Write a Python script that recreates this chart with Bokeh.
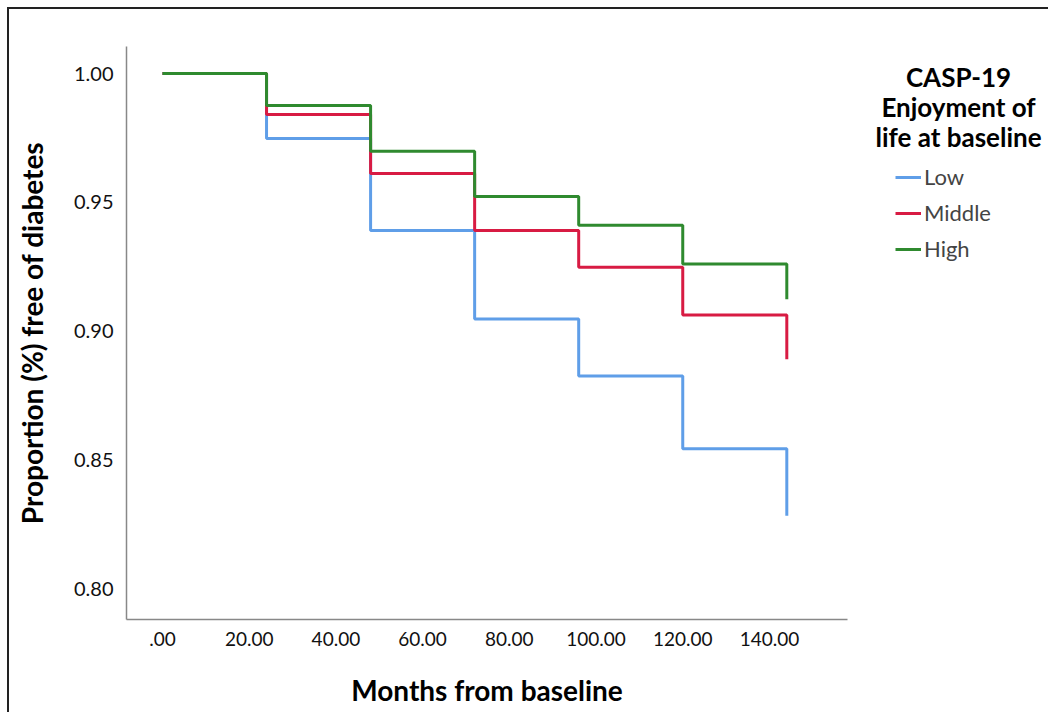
from bokeh.plotting import figure
from bokeh.layouts import row
from bokeh.models import Legend, LegendItem, Label, NumeralTickFormatter, Range1d
from bokeh.embed import file_html
from bokeh.resources import INLINE

months = [0, 24, 48, 72, 96, 120, 144]
low = [1.0, 0.9748, 0.9391, 0.9047, 0.8826, 0.8543, 0.8283]
middle = [1.0, 0.9841, 0.9612, 0.9391, 0.9248, 0.9062, 0.8891]
high = [1.0, 0.9876, 0.9698, 0.9523, 0.9411, 0.9260, 0.9124]
series_names = ["Low", "Middle", "High"]
colors = ["#5f9ee8", "#d81b43", "#2f8a2f"]
x_ticks = [0, 20, 40, 60, 80, 100, 120, 140]
y_ticks = [0.80, 0.85, 0.90, 0.95, 1.00]
legend_title = ["CASP-19", "Enjoyment of", "life at baseline"]

FONT = "Lato"
H = 703

p = figure(width=848, height=H, output_backend="svg", toolbar_location=None,
           x_range=Range1d(-8.3, 158), y_range=Range1d(0.788, 1.0105),
           min_border_left=117, min_border_top=37, min_border_right=10, min_border_bottom=93)
p.frame_width = 721
p.frame_height = 573
p.outline_line_color = None
p.grid.visible = False

for ys, c in zip([low, middle, high], colors):
    p.step(months, ys, mode="after", line_color=c, line_width=3)

for ax in (p.xaxis[0], p.yaxis[0]):
    ax.axis_line_color = "#888888"
    ax.axis_line_width = 1.5
    ax.major_tick_line_color = None
    ax.minor_tick_line_color = None
    ax.major_label_text_font = FONT
    ax.major_label_text_color = "#111111"
    ax.axis_label_text_font = FONT
    ax.axis_label_text_font_style = "bold"
    ax.axis_label_text_font_size = "28px"
    ax.axis_label_text_color = "#000000"

p.xaxis.ticker = x_ticks
p.xaxis.formatter = NumeralTickFormatter(format="0.00")
p.xaxis.major_label_overrides = {0: ".00"}
p.xaxis.axis_label = "Months from baseline"
p.xaxis.major_label_text_font_size = "19px"
p.xaxis.major_label_standoff = 6
p.xaxis.axis_label_standoff = 24

p.yaxis.ticker = y_ticks
p.yaxis.formatter = NumeralTickFormatter(format="0.00")
p.yaxis.axis_label = "Proportion (%) free of diabetes"
p.yaxis.major_label_text_font_size = "20px"
p.yaxis.major_label_standoff = 7
p.yaxis.axis_label_standoff = 22

# legend panel (its series lines lie outside its ranges; only legend icons show)
q = figure(width=191, height=H, output_backend="svg", toolbar_location=None,
           x_range=Range1d(-20, -10), y_range=Range1d(0, 1),
           min_border=0, x_axis_location=None, y_axis_location=None)
q.outline_line_color = None
q.grid.visible = False

legend_renderers = [q.line(months, ys, line_color=c, line_width=3)
                    for ys, c in zip([low, middle, high], colors)]
items = [LegendItem(label=n, renderers=[r]) for n, r in zip(series_names, legend_renderers)]
legend = Legend(items=items, location=(38, 357), orientation="vertical",
                label_text_font=FONT, label_text_font_size="22px",
                glyph_width=26, glyph_height=24, label_height=24, spacing=9, label_standoff=3,
                border_line_color=None, background_fill_alpha=0, padding=0, margin=0)
q.add_layout(legend, "center")

for i, t in enumerate(legend_title):
    q.add_layout(Label(x=101, y=543 - i * 30, x_units="screen", y_units="screen", text=t,
                       text_font=FONT, text_font_style="bold", text_font_size="26px",
                       text_align="center", text_baseline="middle", text_color="#000000"))

layout = row(p, q, spacing=0)
layout.styles = {"border-left": "2px solid #222", "border-top": "2px solid #222",
                 "margin-left": "7px", "margin-top": "7px"}

open("out.html", "w").write(file_html(layout, INLINE))
